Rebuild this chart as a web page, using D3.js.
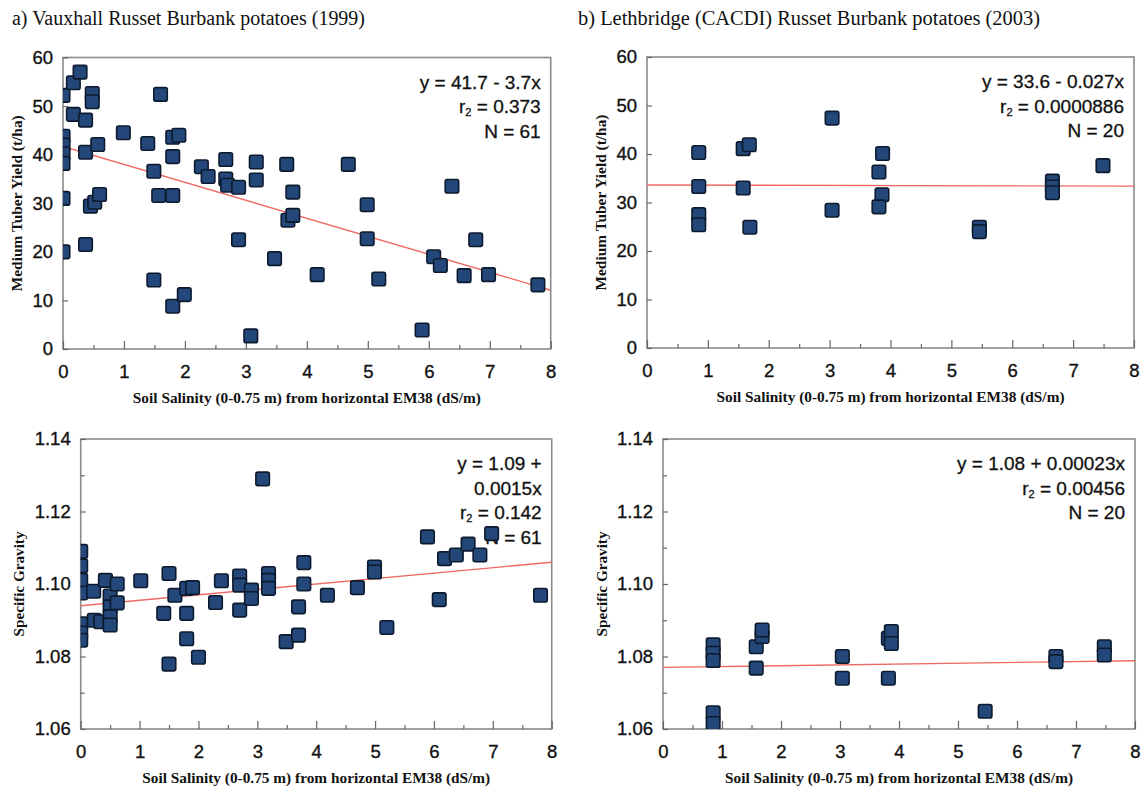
<!DOCTYPE html>
<html>
<head>
<meta charset="utf-8">
<script src="https://cdn.jsdelivr.net/npm/d3@7"></script>
<style>
  html, body { margin: 0; padding: 0; background: #fff; }
  svg { display: block; }
</style>
</head>
<body>
<svg id="chart" width="1148" height="787"></svg>
<script>
// ---------------- DATA ----------------
const panelTitles = [
  "a) Vauxhall Russet Burbank potatoes (1999)",
  "b) Lethbridge (CACDI) Russet Burbank potatoes (2003)"
];
const xAxisTitle = "Soil Salinity (0-0.75 m) from horizontal EM38 (dS/m)";
const yieldAxisTitle = "Medium Tuber Yield (t/ha)";
const sgAxisTitle = "Specific Gravity";

const xTicks = [0, 1, 2, 3, 4, 5, 6, 7, 8];
const yieldTicks = [0, 10, 20, 30, 40, 50, 60];
const sgTicks = [1.06, 1.08, 1.10, 1.12, 1.14];

// a) Vauxhall yield
const aYieldX = [0, 0, 0, 0, 0, 0, 0,
  0.17, 0.28, 0.17, 0.37, 0.48, 0.48, 0.37, 0.57, 0.45, 0.52, 0.6, 0.37,
  0.99, 1.39, 1.49, 1.6, 1.57, 1.8, 1.8, 1.8, 1.9, 1.49, 1.8, 1.99,
  2.27, 2.38, 2.67, 2.67, 2.7, 2.88, 2.88, 3.08, 3.17, 3.17, 3.47,
  3.67, 3.77, 3.69, 3.77, 4.17, 4.68, 4.99, 4.99, 5.18, 5.89, 6.08,
  6.19, 6.38, 6.58, 6.77, 6.98, 7.79];
const aYieldY = [52.2, 43.8, 42, 40.2, 38.2, 31, 20,
  54.8, 57.0, 48.3, 47.1, 52.6, 50.9, 40.5, 42.1, 29.4, 30.2, 31.8, 21.5,
  44.5, 42.3, 36.6, 52.4, 31.6, 31.6, 39.6, 43.6, 44.0, 14.2, 8.8, 11.2,
  37.5, 35.5, 39.0, 35.0, 33.7, 33.3, 22.5, 2.7, 38.5, 34.8, 18.6,
  38.0, 32.3, 26.5, 27.5, 15.3, 38.0, 29.7, 22.7, 14.4, 3.9, 19.0,
  17.2, 33.5, 15.1, 22.5, 15.3, 13.2];
const aYieldFit = [41.7, -3.7];
const aYieldNote = ["y = 41.7 - 3.7x", "r|2| = 0.373", "N = 61"];

// b) Lethbridge yield
const bYieldX = [0.85, 0.85, 0.85, 0.85, 1.58, 1.68, 1.58, 1.69, 3.04, 3.04,
  3.81, 3.87, 3.86, 3.81, 5.46, 5.46, 6.66, 6.66, 6.66, 7.49];
const bYieldY = [40.3, 33.3, 27.5, 25.4, 41.1, 41.9, 33.0, 24.9, 47.4, 28.4,
  36.3, 40.1, 31.6, 29.1, 24.9, 24.0, 34.4, 33.2, 32.0, 37.6];
const bYieldFit = [33.6, -0.027];
const bYieldNote = ["y = 33.6 - 0.027x", "r|2| = 0.0000886", "N = 20"];

// a) Vauxhall specific gravity
const aSgX = [0, 0, 0, 0, 0, 0, 0,
  0.22, 0.23, 0.34, 0.42, 0.5, 0.5, 0.5, 0.5, 0.62, 0.62, 1.02, 1.41,
  1.5, 1.5, 1.6, 1.8, 1.9, 1.8, 1.8, 2.0, 2.29, 2.39, 2.7, 2.7, 2.7,
  2.9, 2.9, 3.09, 3.19, 3.19, 3.19, 3.49, 3.7, 3.7, 3.79, 3.79, 4.19,
  4.7, 4.99, 4.99, 5.2, 5.89, 6.09, 6.18, 6.38, 6.58, 6.78, 6.98, 7.81];
const aSgY = [1.109, 1.105, 1.101, 1.0975, 1.089, 1.0865, 1.0845,
  1.098, 1.090, 1.0896, 1.101, 1.0967, 1.0937, 1.091, 1.0887, 1.100, 1.0948, 1.1009, 1.0919,
  1.1029, 1.0779, 1.0969, 1.0988, 1.099, 1.0919, 1.0849, 1.0798, 1.0949, 1.1009, 1.1022, 1.0997, 1.0928,
  1.0983, 1.096, 1.129, 1.1029, 1.101, 1.0988, 1.0841, 1.0937, 1.0859, 1.1059, 1.100, 1.0969,
  1.099, 1.1047, 1.1033, 1.088, 1.113, 1.0957, 1.107, 1.108, 1.111, 1.108, 1.1139, 1.0969];
const aSgFit = [1.094, 0.0015];
const aSgNote = ["y = 1.09 +", "0.0015x", "r|2| = 0.142", "N = 61"];

// b) Lethbridge specific gravity
const bSgX = [0.85, 0.85, 0.85, 0.85, 0.85, 1.58, 1.68, 1.68, 1.58, 3.04, 3.04,
  3.82, 3.87, 3.87, 3.82, 5.46, 6.66, 6.66, 7.48, 7.48];
const bSgY = [1.0832, 1.0809, 1.0789, 1.0645, 1.0615, 1.0827, 1.0855, 1.0873, 1.0768, 1.080, 1.074,
  1.085, 1.0869, 1.0836, 1.074, 1.0649, 1.080, 1.0786, 1.0827, 1.0804];
const bSgFit = [1.077, 0.00023];
const bSgNote = ["y = 1.08 + 0.00023x", "r|2| = 0.00456", "N = 20"];

// ---------------- DRAWING ----------------
const svg = d3.select("#chart");
const SANS = "'Liberation Sans', Arial, sans-serif";
const SERIF = "'Liberation Serif', 'Times New Roman', serif";

svg.append("text").attr("x", 12).attr("y", 25)
  .attr("font-family", SERIF).attr("font-size", 20).attr("fill", "#111")
  .attr("textLength", 353).attr("lengthAdjust", "spacingAndGlyphs")
  .text(panelTitles[0]);
svg.append("text").attr("x", 578).attr("y", 25)
  .attr("font-family", SERIF).attr("font-size", 20).attr("fill", "#111")
  .attr("textLength", 462).attr("lengthAdjust", "spacingAndGlyphs")
  .text(panelTitles[1]);

let clipId = 0;
function panel(cfg) {
  const x = d3.scaleLinear().domain([0, 8]).range([cfg.left, cfg.right]);
  const y = d3.scaleLinear().domain(cfg.yDomain).range([cfg.bottom, cfg.top]);
  const g = svg.append("g");

  // frame
  g.append("rect").attr("x", cfg.left).attr("y", cfg.top)
    .attr("width", cfg.right - cfg.left).attr("height", cfg.bottom - cfg.top)
    .attr("fill", "none").attr("stroke", "#8a8a8a").attr("stroke-width", 1.6);

  // x axis (ticks pointing inward / up)
  const xAx = d3.axisBottom(x).tickValues(cfg.xTicks).tickSize(-8).tickPadding(16)
    .tickFormat(d3.format("d"));
  const gx = g.append("g").attr("transform", `translate(0,${cfg.bottom})`).call(xAx);
  gx.select(".domain").remove();
  gx.selectAll(".tick line").attr("stroke", "#666").attr("stroke-width", 1.2);
  gx.selectAll(".tick text").attr("font-family", SANS).attr("font-size", 18.5)
    .attr("fill", "#111").attr("stroke", "#111").attr("stroke-width", 0.35);
  const xMinor = d3.axisBottom(x).tickValues(d3.range(0.5, 8, 1)).tickSize(-4).tickFormat("");
  const gxm = g.append("g").attr("transform", `translate(0,${cfg.bottom})`).call(xMinor);
  gxm.select(".domain").remove();
  gxm.selectAll(".tick line").attr("stroke", "#666").attr("stroke-width", 1.2);

  // y axis (ticks inward)
  const yAx = d3.axisLeft(y).tickValues(cfg.yTicks).tickSize(-5).tickPadding(10)
    .tickFormat(cfg.yFormat);
  const gy = g.append("g").attr("transform", `translate(${cfg.left},0)`).call(yAx);
  gy.select(".domain").remove();
  gy.selectAll(".tick line").attr("stroke", "#666").attr("stroke-width", 1.2);
  gy.selectAll(".tick text").attr("font-family", SANS).attr("font-size", 18.5)
    .attr("fill", "#111").attr("stroke", "#111").attr("stroke-width", 0.35);
  if (cfg.yMinor) {
    const yMin = d3.axisLeft(y).tickValues(cfg.yMinor).tickSize(-4).tickFormat("");
    const gym = g.append("g").attr("transform", `translate(${cfg.left},0)`).call(yMin);
    gym.select(".domain").remove();
    gym.selectAll(".tick line").attr("stroke", "#666").attr("stroke-width", 1.2);
  }

  // axis titles
  g.append("text").attr("x", (cfg.left + cfg.right) / 2).attr("y", cfg.bottom + 54)
    .attr("text-anchor", "middle").attr("font-family", SERIF).attr("font-weight", "bold")
    .attr("font-size", 15).attr("fill", "#111")
    .attr("textLength", 348).attr("lengthAdjust", "spacingAndGlyphs")
    .text(xAxisTitle);
  g.append("text")
    .attr("transform", `translate(${cfg.yTitleX},${(cfg.top + cfg.bottom) / 2}) rotate(-90)`)
    .attr("text-anchor", "middle").attr("dy", "0.35em")
    .attr("font-family", SERIF).attr("font-weight", "bold")
    .attr("font-size", 15).attr("fill", "#111")
    .attr("textLength", cfg.yTitleLen).attr("lengthAdjust", "spacingAndGlyphs")
    .text(cfg.yTitle);

  // annotation (drawn before points so markers may cover it)
  cfg.note.forEach((line, i) => {
    const t = g.append("text").attr("x", cfg.right - 10)
      .attr("y", cfg.top + 31 + i * 24.5)
      .attr("text-anchor", "end").attr("font-family", SANS)
      .attr("font-size", 19).attr("fill", "#111")
      .attr("stroke", "#111").attr("stroke-width", 0.3);
    const parts = line.split("|");
    if (parts.length === 3) {
      t.append("tspan").text(parts[0]);
      t.append("tspan").attr("font-size", 11).attr("dy", 3).text(parts[1]);
      t.append("tspan").attr("dy", -3).text(parts[2]);
    } else {
      t.text(line);
    }
  });

  // clip
  const id = "clip" + (clipId++);
  svg.append("clipPath").attr("id", id).append("rect")
    .attr("x", cfg.left).attr("y", cfg.top)
    .attr("width", cfg.right - cfg.left).attr("height", cfg.bottom - cfg.top);
  const plot = g.append("g").attr("clip-path", `url(#${id})`);

  // regression line
  const fx = d3.range(0, 8.001, 8);
  plot.append("path")
    .datum(fx)
    .attr("d", d3.line().x(d => x(d)).y(d => y(cfg.fit[0] + cfg.fit[1] * d)))
    .attr("fill", "none").attr("stroke", "#ef6a64").attr("stroke-width", 1.4);

  // points
  const S = 13.5;
  const pts = cfg.xs.map((v, i) => [v, cfg.ys[i]]);
  plot.selectAll("rect.pt").data(pts).enter().append("rect").attr("class", "pt")
    .attr("x", d => x(d[0]) - S / 2).attr("y", d => y(d[1]) - S / 2)
    .attr("width", S).attr("height", S).attr("rx", 2)
    .attr("fill", "#24477a").attr("stroke", "#0c1a2e").attr("stroke-width", 1.6);
}

const fmtInt = d3.format("d");
const fmtSg = d3.format(".2f");

panel({ left: 63, right: 550.7, top: 57.5, bottom: 349, yDomain: [0, 60],
  xTicks: xTicks, yTicks: yieldTicks, yFormat: fmtInt,
  yTitle: yieldAxisTitle, yTitleX: 17, yTitleLen: 176,
  xs: aYieldX, ys: aYieldY, fit: aYieldFit, note: aYieldNote });
panel({ left: 647, right: 1134, top: 57, bottom: 348, yDomain: [0, 60],
  xTicks: xTicks, yTicks: yieldTicks, yFormat: fmtInt,
  yTitle: yieldAxisTitle, yTitleX: 601, yTitleLen: 176,
  xs: bYieldX, ys: bYieldY, fit: bYieldFit, note: bYieldNote });
panel({ left: 80.7, right: 551.7, top: 439, bottom: 729, yDomain: [1.06, 1.14],
  xTicks: xTicks, yTicks: sgTicks, yMinor: [1.07, 1.09, 1.11, 1.13], yFormat: fmtSg,
  yTitle: sgAxisTitle, yTitleX: 19, yTitleLen: 105,
  xs: aSgX, ys: aSgY, fit: aSgFit, note: aSgNote });
panel({ left: 663, right: 1135, top: 439, bottom: 729, yDomain: [1.06, 1.14],
  xTicks: xTicks, yTicks: sgTicks, yMinor: [1.07, 1.09, 1.11, 1.13], yFormat: fmtSg,
  yTitle: sgAxisTitle, yTitleX: 602, yTitleLen: 105,
  xs: bSgX, ys: bSgY, fit: bSgFit, note: bSgNote });
</script>
</body>
</html>
